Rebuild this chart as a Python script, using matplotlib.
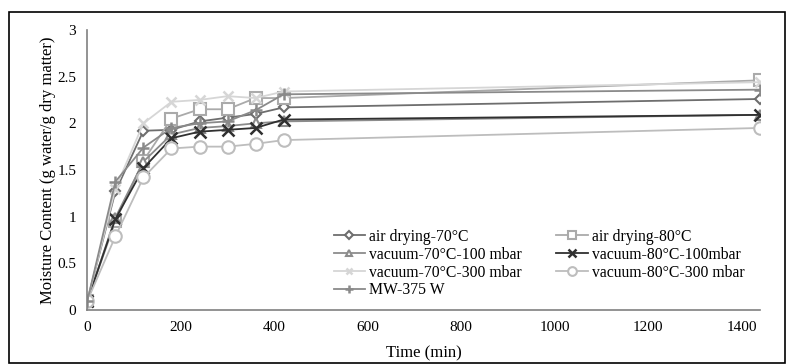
import matplotlib
matplotlib.use("Agg")
import matplotlib.pyplot as plt
from matplotlib.patches import Rectangle

plt.rcParams['font.family'] = ['Liberation Serif', 'DejaVu Serif']

time = [0, 60, 120, 180, 240, 300, 360, 420, 1440]
air70 = [0.1, 1.27, 1.92, 1.93, 2.02, 2.06, 2.10, 2.17, 2.26]
air80 = [0.1, 0.95, 1.60, 2.05, 2.15, 2.15, 2.27, 2.27, 2.46]
vac70_100 = [0.1, 0.99, 1.59, 1.88, 1.95, 1.97, 2.00, 2.02, 2.09]
vac80_100 = [0.1, 0.975, 1.52, 1.84, 1.91, 1.93, 1.95, 2.04, 2.09]
vac70_300 = [0.1, 1.30, 2.00, 2.23, 2.25, 2.29, 2.27, 2.34, 2.44]
vac80_300 = [0.1, 0.79, 1.42, 1.73, 1.75, 1.75, 1.78, 1.82, 1.95]
mw375 = [0.1, 1.375, 1.74, 1.95, 2.00, 2.02, 2.14, 2.31, 2.36]

labels = ["air drying-70°C", "air drying-80°C", "vacuum-70°C-100 mbar",
          "vacuum-80°C-100mbar", "vacuum-70°C-300 mbar", "vacuum-80°C-300 mbar",
          "MW-375 W"]
series = [air70, air80, vac70_100, vac80_100, vac70_300, vac80_300, mw375]
colors = ["#6e6e6e", "#aaaaaa", "#8c8c8c", "#303030", "#d6d6d6", "#bdbdbd", "#8a8a8a"]
markers = ["D", "s", "^", "x", "x", "o", "+"]
msizes = [5.5, 8.5, 7, 8, 7, 9, 8]

fig = plt.figure(figsize=(7.87, 3.64), dpi=100)
ax = fig.add_axes([0.111, 0.148, 0.855, 0.77])

handles = []
for ys, lab, c, m, ms in zip(series, labels, colors, markers, msizes):
    filled = m in ("x", "+")
    h, = ax.plot(time, ys, color=c, lw=1.3, marker=m, ms=ms,
                 mfc=c if filled else "white", mec=c, mew=1.8 if filled else 1.5,
                 label=lab)
    handles.append(h)

ax.set_xlim(0, 1440)
ax.set_ylim(0, 3)
ax.set_xticks(range(0, 1401, 200))
ax.set_yticks([0, 0.5, 1, 1.5, 2, 2.5, 3])
ax.set_yticklabels(["0", "0.5", "1", "1.5", "2", "2.5", "3"])
for s in ["top", "right"]:
    ax.spines[s].set_visible(False)
for s in ["left", "bottom"]:
    ax.spines[s].set_color("#808080")
    ax.spines[s].set_linewidth(1.2)
ax.tick_params(length=0, labelsize=11, colors="black", pad=8)
ax.set_xlabel("Time (min)", fontsize=12, labelpad=8)
ax.set_ylabel("Moisture Content (g water/g dry matter)", fontsize=12, labelpad=1)

order = [0, 2, 4, 6, 1, 3, 5]
leg = ax.legend([handles[i] for i in order], [labels[i] for i in order],
                ncol=2, loc="upper left", bbox_to_anchor=(0.366, 0.29),
                borderaxespad=0, borderpad=0,
                frameon=False, fontsize=11.3, handlelength=2.0, handletextpad=0.25,
                columnspacing=2.2, labelspacing=0.12, markerscale=0.7)

fig.patches.append(Rectangle((0.011, 0.004), 0.987, 0.962, transform=fig.transFigure,
                             fill=False, edgecolor="black", lw=1.2))

fig.savefig("out.png", dpi=100)
